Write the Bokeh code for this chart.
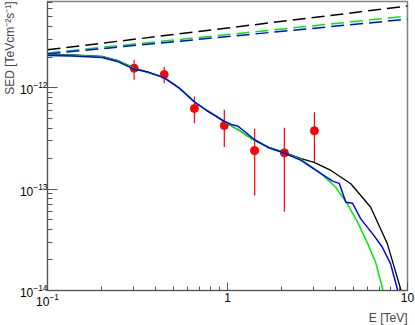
from bokeh.plotting import figure
from bokeh.models import FixedTicker, Title, Range1d, LogTickFormatter
from bokeh.embed import file_html
from bokeh.resources import INLINE

# ---- data ----
x_major = [0.1, 1, 10]
x_plain_ticks = [1, 10]          # shown as plain numbers; 0.1 shown as 10^-1
x_plain_labels = ["1", "10"]
x_minor = [0.2, 0.3, 0.4, 0.5, 0.6, 0.7, 0.8, 0.9, 2, 3, 4, 5, 6, 7, 8, 9]
y_major = [1e-14, 1e-13, 1e-12]   # shown as 10^-14, 10^-13, 10^-12
y_minor = [2e-14, 3e-14, 4e-14, 5e-14, 6e-14, 7e-14, 8e-14, 9e-14,
           2e-13, 3e-13, 4e-13, 5e-13, 6e-13, 7e-13, 8e-13, 9e-13,
           2e-12, 3e-12, 4e-12, 5e-12, 6e-12, 7e-12]
x_title = "E [TeV]"
y_title = "SED [TeVcm\u207b\u00b2s\u207b\u00b9]"

# measured points
pt_E = [0.303, 0.445, 0.655, 0.96, 1.415, 2.07, 3.04]
pt_sed = [1.56e-12, 1.35e-12, 6.25e-13, 4.25e-13, 2.40e-13, 2.28e-13, 3.77e-13]
pt_hi = [1.89e-12, 1.60e-12, 8.2e-13, 6.07e-13, 3.94e-13, 4.03e-13, 5.74e-13]
pt_lo = [1.20e-12, 1.11e-12, 4.47e-13, 2.6e-13, 8.65e-14, 6.0e-14, 1.82e-13]

# black model (solid)
black_E = [0.100, 0.137, 0.201, 0.244, 0.302, 0.443, 0.543, 0.657, 0.795, 0.963,
           1.165, 1.410, 1.706, 2.065, 2.564, 3.025, 3.754, 4.843, 6.246, 7.724,
           9.150, 9.384]
black_sed = [2.13e-12, 2.11e-12, 2.04e-12, 1.86e-12, 1.57e-12, 1.27e-12, 9.84e-13,
             7.21e-13, 5.74e-13, 4.60e-13, 3.79e-13, 3.02e-13, 2.59e-13, 2.31e-13,
             2.00e-13, 1.84e-13, 1.53e-13, 1.13e-13, 6.63e-14, 2.90e-14, 1.04e-14,
             8.9e-15]

# green model (solid)
green_E = [0.100, 0.137, 0.201, 0.244, 0.302, 0.443, 0.543, 0.657, 0.795, 0.963,
           1.165, 1.410, 1.706, 2.065, 2.564, 3.306, 4.002, 4.662, 5.295, 6.012,
           6.657, 7.276, 7.463]
green_sed = [2.11e-12, 2.09e-12, 2.02e-12, 1.85e-12, 1.56e-12, 1.27e-12, 9.84e-13,
             7.21e-13, 5.74e-13, 4.60e-13, 3.79e-13, 3.02e-13, 2.57e-13, 2.29e-13,
             1.96e-13, 1.43e-13, 1.037e-13, 7.05e-14, 4.68e-14, 2.90e-14,
             1.886e-14, 1.04e-14, 8.27e-15]

# blue model (solid, jagged)
blue_E = [0.100, 0.137, 0.201, 0.244, 0.302, 0.366, 0.443, 0.543, 0.657, 0.766,
          0.869, 0.963, 1.052, 1.136, 1.226, 1.410, 1.706, 2.065, 2.564, 3.306,
          3.837, 4.173, 4.545, 4.949, 5.500, 6.514, 7.248, 8.055, 8.773, 8.918]
blue_sed = [2.08e-12, 2.06e-12, 1.99e-12, 1.82e-12, 1.53e-12, 1.42e-12, 1.26e-12,
            9.84e-13, 7.24e-13, 5.97e-13, 5.21e-13, 4.65e-13, 4.34e-13, 4.20e-13,
            3.79e-13, 3.09e-13, 2.54e-13, 2.27e-13, 1.92e-13, 1.42e-13, 1.20e-13,
            1.14e-13, 7.43e-14, 7.26e-14, 5.09e-14, 3.48e-14, 2.67e-14, 1.83e-14,
            1.04e-14, 8.9e-15]

# dashed power laws
dash_E = [0.1, 1.0, 10.0]
dash_black = [2.37e-12, 3.89e-12, 6.40e-12]
dash_green = [2.21e-12, 3.35e-12, 5.09e-12]
dash_blue = [2.16e-12, 3.20e-12, 4.75e-12]

# ---- figure ----
p = figure(width=415, height=325, x_axis_type="log", y_axis_type="log",
           x_range=Range1d(0.1, 10), y_range=Range1d(1e-14, 7.1e-12),
           output_backend="svg", toolbar_location=None,
           min_border_left=45, min_border_right=8, min_border_top=1,
           min_border_bottom=35)
p.grid.visible = False
p.background_fill_color = "white"
p.border_fill_color = "white"
p.outline_line_color = "#808080"
p.outline_line_width = 1.5

xa = p.xaxis[0]
ya = p.yaxis[0]
xa.ticker = FixedTicker(ticks=x_major, minor_ticks=x_minor)
ya.ticker = FixedTicker(ticks=y_major, minor_ticks=y_minor)
xa.formatter = LogTickFormatter()
ya.formatter = LogTickFormatter()
xa.major_label_overrides = dict(zip(x_plain_ticks, x_plain_labels))
for ax in (xa, ya):
    ax.axis_line_color = "#555555"
    ax.major_tick_line_color = "#555555"
    ax.minor_tick_line_color = "#555555"
    ax.major_tick_out = 0
    ax.minor_tick_out = 0
    ax.major_label_text_font = "Liberation Sans"
    ax.major_label_text_font_size = "12px"
    ax.major_label_text_color = "black"
xa.major_tick_in = 8
xa.minor_tick_in = 4
ya.major_tick_in = 10
ya.minor_tick_in = 5
xa.major_label_standoff = 2
ya.major_label_standoff = 0

# data points (below curves)
p.segment(x0=pt_E, y0=pt_lo, x1=pt_E, y1=pt_hi, line_color="red", line_width=1.2)
p.scatter(pt_E, pt_sed, size=8, fill_color="red", line_color="red")

# dashed
p.line(dash_E, dash_black, line_color="black", line_width=1.5, line_dash="13 6")
p.line(dash_E, dash_green, line_color="#00ee00", line_width=1.5, line_dash="13 6")
p.line(dash_E, dash_blue, line_color="#0000ff", line_width=1.5, line_dash="13 6")

# solid models
p.line(black_E, black_sed, line_color="black", line_width=1.3)
p.line(green_E, green_sed, line_color="#00ee00", line_width=1.5)
p.line(blue_E, blue_sed, line_color="#0000ff", line_width=1.5)

ytitle = Title(text=y_title, align="right", text_font="Liberation Sans",
               text_font_size="12px", text_font_style="normal", standoff=0, offset=0)
p.add_layout(ytitle, "left")
xtitle = Title(text=x_title, align="right", text_font="Liberation Sans",
               text_font_size="12px", text_font_style="normal", standoff=0, offset=0)
p.add_layout(xtitle, "below")

open("out.html", "w").write(file_html(p, INLINE))
